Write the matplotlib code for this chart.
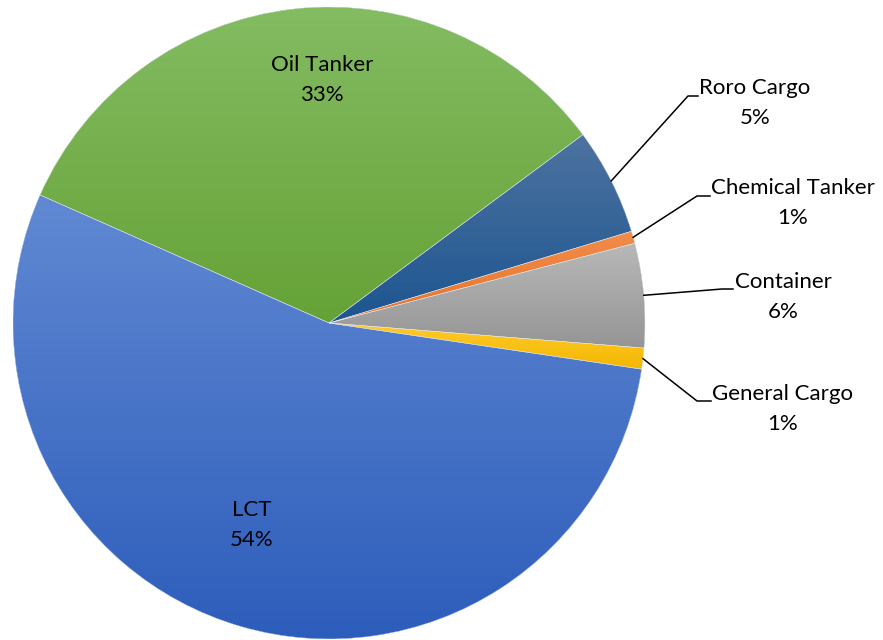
import numpy as np
import matplotlib
matplotlib.use("Agg")
import matplotlib.pyplot as plt
from matplotlib.colors import LinearSegmentedColormap

# slice data, clockwise from the LCT / Oil Tanker border
categories = ["Oil Tanker", "Roro Cargo", "Chemical Tanker", "Container", "General Cargo", "LCT"]
shares = [33.2, 5.47, 0.63, 5.32, 1.07, 54.3]
pct_labels = ["33%", "5%", "1%", "6%", "1%", "54%"]

# gradient top / bottom colours per slice (office style)
top_colors = ["#84bc62", "#4d73a0", "#f28c4a", "#b8b8b8", "#ffca2c", "#6189d3"]
bottom_colors = ["#65a236", "#1d5590", "#e8732a", "#959595", "#f4b700", "#2d5dbb"]

W, H = 883, 640
cx, cy, r = 329, H - 323, 316

fig = plt.figure(figsize=(W / 100, H / 100), dpi=100)
ax = fig.add_axes([0, 0, 1, 1])

wedges, _ = ax.pie(shares, startangle=156.1, counterclock=False,
                   center=(cx, cy), radius=r, colors=bottom_colors,
                   wedgeprops=dict(linewidth=0))

grad = np.linspace(0, 1, 256).reshape(-1, 1)
for w, c0, c1 in zip(wedges, top_colors, bottom_colors):
    bb = w.get_path().get_extents()
    cmap = LinearSegmentedColormap.from_list("g", [c0, c1])
    im = ax.imshow(grad, cmap=cmap, extent=[bb.x0, bb.x1, bb.y0, bb.y1],
                   aspect="auto", origin="upper", zorder=2, interpolation="bilinear")
    im.set_clip_path(w)

# thin light borders between slices
ax.pie(shares, startangle=156.1, counterclock=False, center=(cx, cy), radius=r,
       wedgeprops=dict(facecolor="none", edgecolor="#e8eef8", linewidth=0.3, zorder=3))

plt.rcParams["font.family"] = ["Lato", "DejaVu Sans"]
fs = 16
lsp = 1.62

# inside labels
inside = {0: (322, 80), 5: (252, 525)}
for i, (x, y) in inside.items():
    ax.text(x, H - y, categories[i] + "\n" + pct_labels[i], ha="center", va="center",
            fontsize=fs, color="#000000", linespacing=lsp, zorder=5)

# outside labels with leader lines: text centre and elbow point (image px)
outside = {1: ((755, 103), (688, 96), (698, 96)),
           2: ((793, 203), (697, 196), (710, 196)),
           3: ((783, 297), (722, 289), (733, 289)),
           4: ((783, 409), (697, 401), (711, 401))}
for i, ((tx, ty), (ex, ey), (hx, hy)) in outside.items():
    w = wedges[i]
    mid = np.deg2rad((w.theta1 + w.theta2) / 2)
    sx, sy = cx + r * np.cos(mid), cy + r * np.sin(mid)
    ax.plot([sx, ex, hx], [sy, H - ey, H - hy], color="black", lw=1.1,
            solid_joinstyle="round", zorder=4)
    ax.text(tx, H - ty, categories[i] + "\n" + pct_labels[i], ha="center", va="center",
            fontsize=fs, color="#000000", linespacing=lsp, zorder=5)

ax.set_xlim(0, W)
ax.set_ylim(0, H)
ax.set_aspect("equal")
ax.axis("off")

fig.savefig("out.png", dpi=100, facecolor="white")
